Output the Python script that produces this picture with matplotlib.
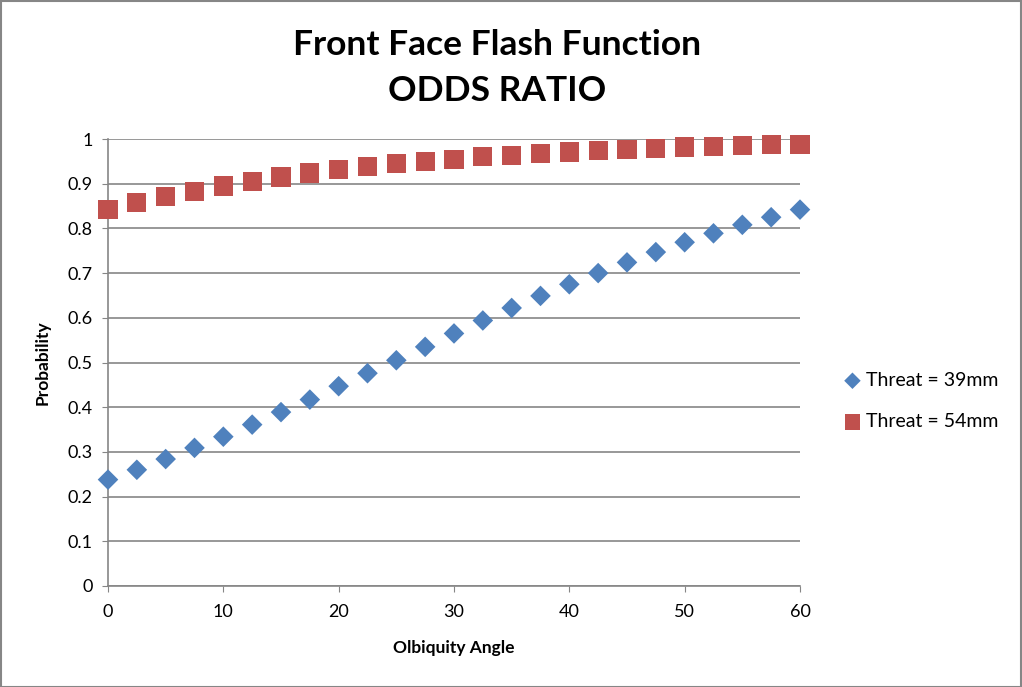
import numpy as np
import matplotlib.pyplot as plt
from matplotlib.patches import Rectangle

# ── Données ───────────────────────────────────────────────
angles = [0, 2.5, 5, 7.5, 10, 12.5, 15, 17.5, 20, 22.5, 25, 27.5, 30,
          32.5, 35, 37.5, 40, 42.5, 45, 47.5, 50, 52.5, 55, 57.5, 60]
p_39mm = [0.238, 0.260, 0.284, 0.309, 0.334, 0.361, 0.389, 0.417, 0.447,
          0.476, 0.505, 0.535, 0.565, 0.594, 0.622, 0.649, 0.675, 0.700,
          0.724, 0.747, 0.769, 0.789, 0.808, 0.825, 0.842]
p_54mm = [0.842, 0.857, 0.871, 0.883, 0.895, 0.905, 0.915, 0.924, 0.931,
          0.939, 0.945, 0.950, 0.955, 0.960, 0.964, 0.968, 0.971, 0.974,
          0.977, 0.979, 0.982, 0.984, 0.985, 0.987, 0.988]
series_labels = ['Threat = 39mm', 'Threat = 54mm']
xticks = [0, 10, 20, 30, 40, 50, 60]
yticks = [0, 0.1, 0.2, 0.3, 0.4, 0.5, 0.6, 0.7, 0.8, 0.9, 1]

plt.rcParams['font.family'] = ['Lato', 'DejaVu Sans']
grey = '#868686'

W, H = 1022, 687
fig = plt.figure(figsize=(W / 100, H / 100), dpi=100)
ax = fig.add_axes([108 / W, 1 - 586 / H, (800 - 108) / W, (586 - 139) / H])

ax.scatter(angles, p_39mm, marker='D', s=110, color='#4F81BD',
           edgecolors='none', label=series_labels[0], zorder=3, clip_on=False)
ax.scatter(angles, p_54mm, marker='s', s=190, color='#C0504D',
           edgecolors='none', label=series_labels[1], zorder=3, clip_on=False)

ax.set_xlim(0, 60)
ax.set_ylim(0, 1)
ax.set_xticks(xticks)
ax.set_yticks(yticks)
ax.set_yticklabels([f"{v:g}" for v in yticks])
ax.tick_params(axis='both', labelsize=13, color=grey, length=4,
               direction='out')
ax.tick_params(axis='x', pad=9)
ax.tick_params(axis='y', pad=7)
ax.grid(axis='y', color=grey, lw=1.2)
ax.set_axisbelow(True)
for s in ['top', 'right']:
    ax.spines[s].set_visible(False)
for s in ['left', 'bottom']:
    ax.spines[s].set_color(grey)
    ax.spines[s].set_linewidth(1.2)

ax.set_xlabel('Olbiquity Angle', fontsize=12.5, fontweight='bold', labelpad=14)
ax.set_ylabel('Probability', fontsize=12.5, fontweight='bold', labelpad=12)

fig.text(0.486, 1 - 29 / H, 'Front Face Flash Function\nODDS RATIO',
         ha='center', va='top', fontsize=25.5, fontweight='bold',
         linespacing=1.55)

ax.legend(loc='center left', bbox_to_anchor=(833 / W, 1 - 401 / H),
          bbox_transform=fig.transFigure, frameon=False, fontsize=14,
          handletextpad=0.1, labelspacing=1.25, borderaxespad=0,
          markerscale=0.8, handlelength=1.2)

fig.patches.append(Rectangle((0.5 / W, 0.5 / H), 1 - 1.5 / W, 1 - 1.5 / H,
                             transform=fig.transFigure, fill=False,
                             edgecolor=grey, lw=1.5))

plt.savefig('out.png', dpi=100)
